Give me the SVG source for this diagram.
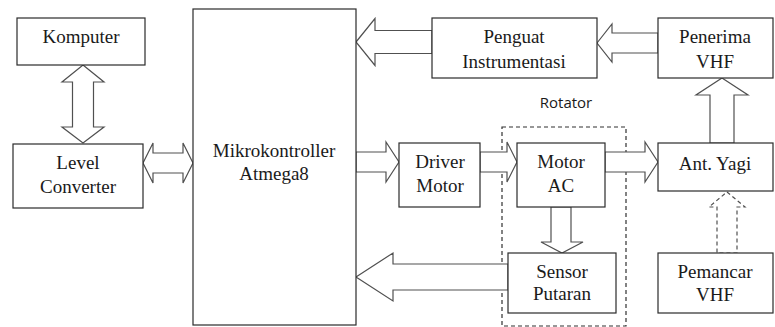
<svg xmlns="http://www.w3.org/2000/svg" width="775" height="327" viewBox="0 0 775 327">
  <style>
    .box { fill: #ffffff; stroke: #2b2b2b; stroke-width: 1.2; }
    .arrow { fill: #ffffff; stroke: #505050; stroke-width: 1.2; stroke-linejoin: miter; }
    .dashed { fill: none; stroke: #303030; stroke-width: 1.2; stroke-dasharray: 4 3; }
    .dasharrow { fill: #ffffff; stroke: #505050; stroke-width: 1.2; stroke-dasharray: 4 3; }
    .lbl { font-family: "Liberation Serif", "Times New Roman", serif; font-size: 19px; fill: #1a1a1a; text-anchor: middle; }
    .note { font-family: "Open Sans", "DejaVu Sans", sans-serif; font-size: 15px; fill: #1a1a1a; text-anchor: middle; }
  </style>
  <rect width="775" height="327" fill="#ffffff"/>

  <!-- rotator boundary -->
  <g id="rotator">
    <rect class="dashed" x="502" y="127" width="124" height="199"/>
    <text class="note" x="566" y="108">Rotator</text>
  </g>

  <!-- block arrows between blocks -->
  <g id="connectors">
    <!-- Komputer <-> Level Converter -->
    <polygon class="arrow" points="83,65 104,82 93.5,82 93.5,127 104,127 83,143 62,127 72.5,127 72.5,82 62,82"/>
    <!-- Level Converter <-> Mikrokontroller -->
    <polygon class="arrow" points="143,163 153,143 153,153 183,153 183,143 193,163 183,183 183,173 153,173 153,183"/>
    <!-- Penguat Instrumentasi -> Mikrokontroller -->
    <polygon class="arrow" points="356,42 375,18.5 375,30.5 432,30.5 432,53.5 375,53.5 375,65.5"/>
    <!-- Penerima VHF -> Penguat Instrumentasi -->
    <polygon class="arrow" points="597,43 612,24 612,33 658,33 658,53 612,53 612,62"/>
    <!-- Ant. Yagi -> Penerima VHF -->
    <polygon class="arrow" points="722,78 748,95 734,95 734,143 710,143 710,95 696,95"/>
    <!-- Mikrokontroller -> Driver Motor -->
    <polygon class="arrow" points="356,152 386,152 386,142 399,162 386,182 386,172 356,172"/>
    <!-- Driver Motor -> Motor AC -->
    <polygon class="arrow" points="480,152 507,152 507,142 517,162 507,182 507,172 480,172"/>
    <!-- Motor AC -> Ant. Yagi -->
    <polygon class="arrow" points="605,152 645,152 645,142 658,162 645,182 645,172 605,172"/>
    <!-- Motor AC -> Sensor Putaran -->
    <polygon class="arrow" points="551,207 571,207 571,242 583,242 562,253 541,242 551,242"/>
    <!-- Sensor Putaran -> Mikrokontroller -->
    <polygon class="arrow" points="356,277 393,253 393,264 508,264 508,290 393,290 393,301"/>
    <!-- Pemancar VHF -> Ant. Yagi (dashed) -->
    <polygon class="dasharrow" points="727,192 745,207 737,207 737,253 717,253 717,207 709,207"/>
  </g>

  <g id="komputer">
    <rect class="box" x="17" y="18" width="128" height="47"/>
    <text class="lbl" x="81" y="43">Komputer</text>
  </g>

  <g id="level-converter">
    <rect class="box" x="13" y="144" width="130" height="64"/>
    <text class="lbl" x="78" y="169">Level</text>
    <text class="lbl" x="78" y="193">Converter</text>
  </g>

  <g id="mikrokontroller">
    <rect class="box" x="193" y="9" width="163" height="316"/>
    <text class="lbl" x="274" y="157">Mikrokontroller</text>
    <text class="lbl" x="274" y="180">Atmega8</text>
  </g>

  <g id="penguat">
    <rect class="box" x="432" y="18" width="165" height="60"/>
    <text class="lbl" x="514" y="43">Penguat</text>
    <text class="lbl" x="514" y="68">Instrumentasi</text>
  </g>

  <g id="penerima">
    <rect class="box" x="658" y="18" width="115" height="60"/>
    <text class="lbl" x="715" y="43">Penerima</text>
    <text class="lbl" x="715" y="68">VHF</text>
  </g>

  <g id="driver-motor">
    <rect class="box" x="399" y="143" width="81" height="64"/>
    <text class="lbl" x="440" y="168">Driver</text>
    <text class="lbl" x="440" y="192">Motor</text>
  </g>

  <g id="motor-ac">
    <rect class="box" x="517" y="143" width="88" height="64"/>
    <text class="lbl" x="561" y="168">Motor</text>
    <text class="lbl" x="561" y="192">AC</text>
  </g>

  <g id="ant-yagi">
    <rect class="box" x="658" y="143" width="115" height="48"/>
    <text class="lbl" x="715" y="170">Ant. Yagi</text>
  </g>

  <g id="sensor-putaran">
    <rect class="box" x="508" y="253" width="108" height="60"/>
    <text class="lbl" x="562" y="278">Sensor</text>
    <text class="lbl" x="562" y="300">Putaran</text>
  </g>

  <g id="pemancar">
    <rect class="box" x="658" y="253" width="115" height="60"/>
    <text class="lbl" x="715" y="278">Pemancar</text>
    <text class="lbl" x="715" y="301">VHF</text>
  </g>
</svg>
